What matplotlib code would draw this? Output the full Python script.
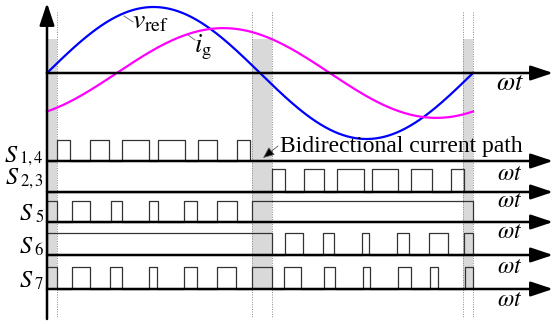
import matplotlib.pyplot as plt
import numpy as np
from matplotlib.patches import Rectangle

plt.rcParams['font.family'] = ['Liberation Serif', 'DejaVu Serif']
plt.rcParams['mathtext.fontset'] = 'stix'

# one line period, phase in degrees
theta = np.linspace(0, 360, 721)
v_ref_amp = 1.0
i_g_amp = 0.68
i_g_lag = 59.0

# dead zones around the zero crossings of v_ref (degrees)
dead_zones = [(0, 8.5), (173, 190), (351.5, 360)]

# gate signals, on-intervals in degrees
s14_on = [(8.5, 19.5), (36.5, 52.5), (63.5, 86.5), (93.5, 116.5), (127.5, 143.5), (160.5, 171.5)]
s23_on = [(190, 201), (217.5, 234), (245, 267.5), (275, 297), (308, 325), (341, 352)]
s5_on = [(0, 8.5), (21.5, 36.5), (54, 63.5), (86.5, 93.5), (116, 127), (143.5, 160.5), (173, 360)]
s6_on = [(0, 190), (201, 216), (233, 242.5), (266, 272.5), (296, 306), (323, 339), (352.5, 360)]
s7_on = [(0, 8.5), (21.5, 36), (53.5, 63), (86.5, 93), (116, 126.5), (143.5, 160), (173, 190),
         (200.5, 214.5), (234, 243.5), (267, 273), (297, 307.5), (324, 330.5), (353, 360)]
gates = [s14_on, s23_on, s5_on, s6_on, s7_on]
gate_subs = ['1,4', '2,3', '5', '6', '7']

# drawing frame: x in degrees, y in pixel rows from the top
X0 = 47.0
K = 426.0 / 360.0


def px(x):
    return (x - X0) / K


fig = plt.figure(figsize=(5.54, 3.24), dpi=100)
ax = fig.add_axes([0, 0, 1, 1])
ax.set_xlim(px(0), px(554))
ax.set_ylim(324, 0)
ax.axis('off')
renderer = fig.canvas.get_renderer()

y_sine = 73
scale = 66
bases = [161, 192, 222, 255, 289]
tops = [140, 169, 201, 233, 267]
label_base = [161.5, 184, 220, 253, 287]
sub_drop = [1.5, 2, 2, 2, 2]
wt_base = [180, 207, 238, 273, 306]

# shaded dead zones and their dotted edges
for a, b in dead_zones:
    ax.add_patch(Rectangle((a, 39), b - a, 289 - 39, color='#d9d9d9', lw=0, zorder=0))
for x in [8.5, 173, 190, 351.5, 360]:
    ax.plot([x, x], [12, 318], ls=(0, (1, 1.5)), color='#888888', lw=0.7, zorder=1)

# reference voltage and grid current
v = v_ref_amp * np.sin(np.radians(theta))
i = i_g_amp * np.sin(np.radians(theta - i_g_lag))
ax.plot(theta, y_sine - scale * v, color='#0000ff', lw=1.6, zorder=3)
ax.plot(theta, y_sine - scale * i, color='#ff00ff', lw=1.6, zorder=3)

ax.text(px(132), 28, r'$v_{\mathrm{ref}}$', fontsize=20, zorder=5)
ax.plot([px(124), px(133)], [16, 22], color='#777777', lw=0.7)
ax.text(px(194), 52, r'$i_{\mathrm{g}}$', fontsize=19, zorder=5)
ax.plot([px(188), px(195)], [35, 40], color='#777777', lw=0.7)


def axis_arrow(x0, y0, x1, y1):
    ax.annotate('', xy=(x1, y1), xytext=(x0, y0),
                arrowprops=dict(arrowstyle='-|>,head_length=0.9,head_width=0.3',
                                mutation_scale=15, lw=1.8, color='k',
                                shrinkA=0, shrinkB=0), zorder=4)


axis_arrow(0, 319, 0, 3)
axis_arrow(0, y_sine, px(553), y_sine)
ax.text(px(496), 90, r'$\omega t$', fontsize=19)

# gate pulse trains
for on, base, top, sub, lb, sd, wb in zip(gates, bases, tops, gate_subs,
                                          label_base, sub_drop, wt_base):
    xs, ys = [0], [base]
    for a, b in on:
        xs += [a, a, b, b]
        ys += [base, top, top, base]
    ax.plot(xs, ys, color='#333333', lw=0.9, zorder=3)
    axis_arrow(0, base, px(553), base)
    # subscript first, then the S right up against it
    t = ax.text(px(44), lb + sd, r'$\mathrm{%s}$' % sub, fontsize=12, ha='right', va='baseline')
    left = t.get_window_extent(renderer).x0
    x_s = ax.transData.inverted().transform((left - 1, 0))[0]
    ax.text(x_s, lb, r'$S$', fontsize=17.5, ha='right', va='baseline')
    ax.text(px(497), wb, r'$\omega t$', fontsize=17, va='baseline')

ax.text(px(280), 152, 'Bidirectional current path', fontsize=17, va='baseline')
ax.annotate('', xy=(px(263), 158), xytext=(px(278), 146),
            arrowprops=dict(arrowstyle='-|>,head_length=0.7,head_width=0.3',
                            mutation_scale=10, lw=0.6, color='#555555',
                            fc='k', shrinkA=0, shrinkB=0))

fig.savefig('out.png', dpi=100)
